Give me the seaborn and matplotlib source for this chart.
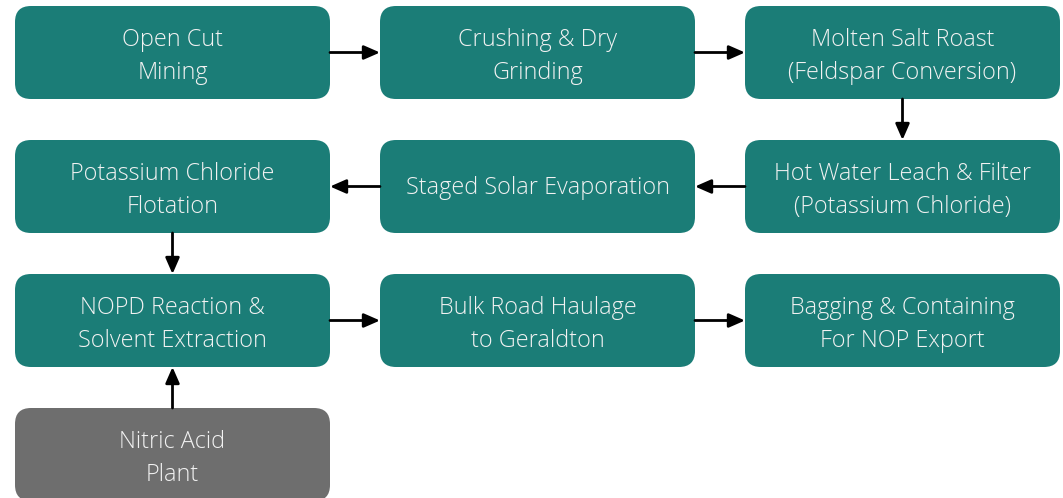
import matplotlib
matplotlib.use('Agg')
import matplotlib.pyplot as plt
import seaborn as sns
from matplotlib.patches import FancyBboxPatch

sns.set_theme(style='white')
plt.rcParams['font.family'] = ['Open Sans', 'DejaVu Sans']

# ============================================================
# 流程节点
# ============================================================
LABELS = ['Open Cut\nMining', 'Crushing & Dry\nGrinding', 'Molten Salt Roast\n(Feldspar Conversion)',
          'Potassium Chloride\nFlotation', 'Staged Solar Evaporation', 'Hot Water Leach & Filter\n(Potassium Chloride)',
          'NOPD Reaction &\nSolvent Extraction', 'Bulk Road Haulage\nto Geraldton', 'Bagging & Containing\nFor NOP Export',
          'Nitric Acid\nPlant']
ROWS = [0, 0, 0, 1, 1, 1, 2, 2, 2, 3]
COLS = [0, 1, 2, 0, 1, 2, 0, 1, 2, 0]
KINDS = ['main'] * 9 + ['input']
# 箭头 (起点, 终点)
EDGES = [(0, 1), (1, 2), (2, 5), (5, 4), (4, 3), (3, 6), (6, 7), (7, 8), (9, 6)]

COLORS = {'main': '#1B7D77', 'input': '#6E6E6E'}

BOX_W, BOX_H = 315, 93
X0, DX = 15, 365
Y0, DY = 6, 134


def box_rect(i):
    x = X0 + COLS[i] * DX
    y = Y0 + ROWS[i] * DY
    return x, y, x + BOX_W, y + BOX_H


fig = plt.figure(figsize=(10.63, 4.98), dpi=100)
ax = fig.add_axes([0, 0, 1, 1])
ax.set_xlim(0, 1063)
ax.set_ylim(498, 0)
ax.axis('off')

for i, lab in enumerate(LABELS):
    x1, y1, x2, y2 = box_rect(i)
    ax.add_patch(FancyBboxPatch((x1, y1), BOX_W, BOX_H,
                                boxstyle='round,pad=0,rounding_size=16',
                                fc=COLORS[KINDS[i]], ec='none'))
    dy = 4 if '\n' in lab else 1
    ax.text((x1 + x2) / 2, (y1 + y2) / 2 + dy, lab, ha='center', va='center',
            color='#F2F2F2', fontsize=16.8, fontweight='light', linespacing=1.45)

for a, b in EDGES:
    ax1, ay1, ax2, ay2 = box_rect(a)
    bx1, by1, bx2, by2 = box_rect(b)
    if ROWS[a] == ROWS[b]:
        y = (ay1 + ay2) / 2
        if COLS[b] > COLS[a]:
            start, end = (ax2, y), (bx1, y)
        else:
            start, end = (ax1, y), (bx2, y)
    else:
        x = (ax1 + ax2) / 2
        if ROWS[b] > ROWS[a]:
            start, end = (x, ay2), (x, by1)
        else:
            start, end = (x, ay1), (x, by2)
    ax.annotate('', xy=end, xytext=start,
                arrowprops=dict(arrowstyle='-|>,head_length=0.8,head_width=0.35',
                                color='black', lw=2, shrinkA=0, shrinkB=0))

fig.savefig('out.png', dpi=100)
